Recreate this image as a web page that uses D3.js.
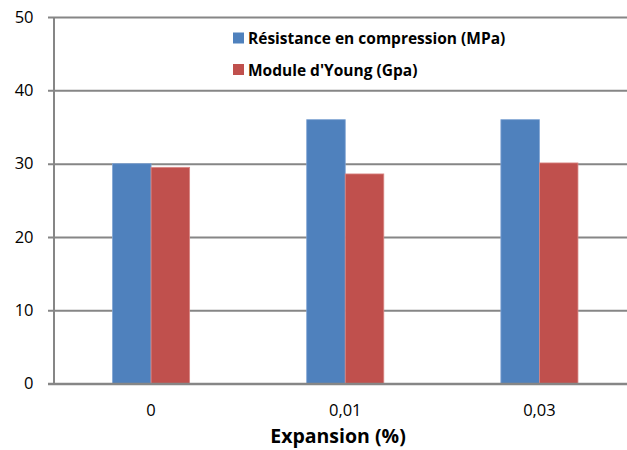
<!DOCTYPE html>
<html><head><meta charset="utf-8">
<script src="https://cdn.jsdelivr.net/npm/d3@7"></script>
<style>body{margin:0;background:#fff}svg{display:block}</style>
</head><body>
<svg id="c" width="627" height="450"></svg>
<script>
const categories = ["0", "0,01", "0,03"];
const seriesNames = ["Résistance en compression (MPa)", "Module d'Young (Gpa)"];
const resistance = [30, 36, 36];
const young = [29.5, 28.6, 30.1];
const yTicks = [0, 10, 20, 30, 40, 50];
const colors = ["#4F81BD", "#C0504D"];
const xTitle = "Expansion (%)";

(function () {
const series = [resistance, young];
const svg = d3.select("#c");
const font = "'Open Sans', sans-serif";

const pLeft = 54, pRight = 636.5, pTop = 17, pBottom = 383.7;
const p = 0.603;
const x0 = d3.scaleBand().domain(categories).range([pLeft, pRight]).paddingInner(p).paddingOuter(p/2);
const x1 = d3.scaleBand().domain(d3.range(series.length)).range([0, x0.bandwidth()]);
const y = d3.scaleLinear().domain([0, 50]).range([pBottom, pTop]);

// gridlines + y ticks
const yAxis = d3.axisLeft(y).tickValues(yTicks).tickSize(-(pRight - pLeft)).tickSizeOuter(0).tickPadding(14).tickFormat(d3.format("d"));
const ga = svg.append("g").attr("transform", `translate(${pLeft},0)`).call(yAxis);
ga.select(".domain").remove();
ga.selectAll(".tick line").attr("stroke", "#868686").attr("stroke-width", 2).attr("x1", -6);
ga.selectAll(".tick text").attr("font-family", font).attr("font-size", 16.5).attr("fill", "#000").attr("x", -20.5);

// bars
categories.forEach((c, i) => {
  series.forEach((s, j) => {
    svg.append("rect")
      .attr("x", x0(c) + x1(j))
      .attr("y", y(s[i]))
      .attr("width", x1.bandwidth())
      .attr("height", y(0) - y(s[i]))
      .attr("fill", colors[j])
      .attr("stroke", j === 0 ? "#7fa3d3" : "#d98784")
      .attr("stroke-width", 0.8);
  });
});

// y axis line
svg.append("line").attr("x1", pLeft).attr("x2", pLeft).attr("y1", pTop).attr("y2", pBottom)
  .attr("stroke", "#868686").attr("stroke-width", 2);
// x axis line
svg.append("line").attr("x1", pLeft - 6).attr("x2", pRight).attr("y1", pBottom).attr("y2", pBottom)
  .attr("stroke", "#868686").attr("stroke-width", 2);

// x tick labels
const xAxis = d3.axisBottom(x0).tickSize(0).tickPadding(21);
const gx = svg.append("g").attr("transform", `translate(0,${pBottom})`).call(xAxis);
gx.select(".domain").remove();
gx.selectAll(".tick text").attr("font-family", font).attr("font-size", 16.5).attr("fill", "#000");

// x title
svg.append("text").attr("x", 338).attr("y", 443).attr("text-anchor", "middle")
  .attr("font-family", font).attr("font-weight", "bold").attr("font-size", 19.5).attr("fill", "#000")
  .text(xTitle);

// legend
const lg = svg.append("g");
seriesNames.forEach((n, j) => {
  const yy = 32.5 + j * 31.5;
  lg.append("rect").attr("x", 233).attr("y", yy).attr("width", 11).attr("height", 11).attr("fill", colors[j]);
  lg.append("text").attr("x", 248).attr("y", yy + 11.5).attr("font-family", font).attr("font-weight", "bold")
    .attr("font-size", 15.5).attr("fill", "#000").text(n);
});
})();
</script>
</body></html>
